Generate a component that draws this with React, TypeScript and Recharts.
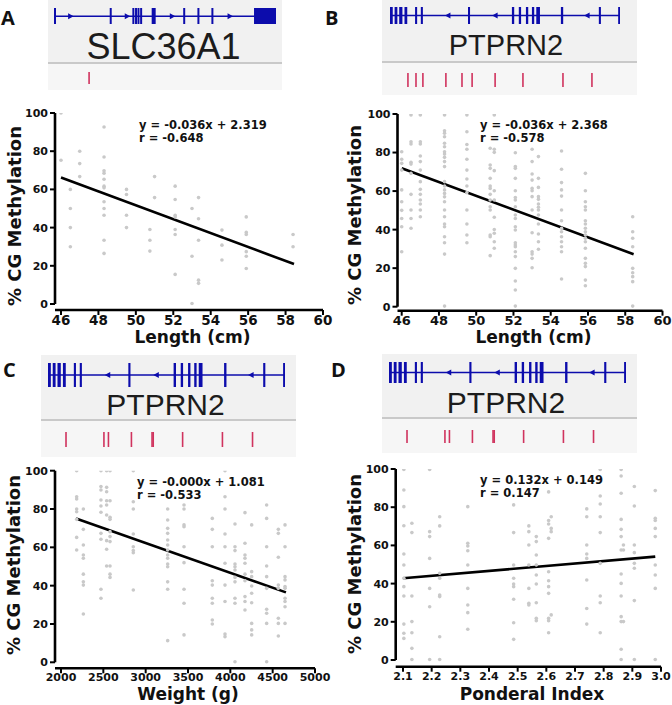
import React from 'react';
import { ComposedChart, Scatter, Line, XAxis, YAxis, ReferenceLine, ReferenceArea } from 'recharts';

// ---------- tick labels ----------
const lengthTicks = [46, 48, 50, 52, 54, 56, 58, 60];
const weightTicks = [2000, 2500, 3000, 3500, 4000, 4500, 5000];
const ponderalTicks = [2.1, 2.2, 2.3, 2.4, 2.5, 2.6, 2.7, 2.8, 2.9, 3.0];
const methylTicks = [0, 20, 40, 60, 80, 100];

// ---------- gene models (positions in % of gene length) ----------
const slc36a1Exons: [number, number][] = [
  [0, 0.9], [25.1, 26], [35.3, 36.2], [36.5, 37.4], [37.6, 38.5], [38.8, 39.7],
  [44, 45.8], [58.2, 59.1], [64.6, 65.5], [70.9, 71.8], [90.1, 100],
];
const slc36a1Arrows = [7.5, 33, 53.3, 79.3];
const slc36a1CpG = [15.8];

const ptprn2Exons: [number, number][] = [
  [0, 1.2], [2, 3.2], [4, 5.4], [6.3, 7.5], [10.9, 11.8], [13.4, 14.3], [33.9, 34.8],
  [53, 54], [56, 57], [59.1, 60.1], [61.7, 62.7], [63.6, 65.2], [74.3, 75.3], [90.8, 91.7], [99.2, 100],
];
const ptprn2Arrows = [25.2, 45.7, 85.7];
const ptprn2CpGLength = [7.8, 11.3, 14.3, 24.3, 31.3, 35.7, 45.7, 57.8, 75.2, 87.8];
const ptprn2CpGWeight = [7.6, 23.6, 25.5, 35.2, 43.9, 44.4, 56.8, 73.6, 86.3];

// ---------- scatter values: [x, methylation % list] ----------
type Column = [number, number[]];

const slcLength: Column[] = [
  [46, [100, 75.3]],
  [46.5, [60, 50, 40, 30]],
  [47, [80, 73.5, 66.7]],
  [48.3, [92.7, 77, 69.7, 68.5, 65.3, 61.7, 60.8, 53.5, 50, 46.5, 33.4, 26.5]],
  [49.5, [60, 57.3, 46.5, 40]],
  [50.75, [39, 33.4, 27.7]],
  [51, [66.7, 55.7]],
  [52.1, [61.7, 54.7, 46.5, 45.6, 39, 36.4, 15.5]],
  [53, [50, 25, 0.3]],
  [53.35, [55.7, 44.6, 33.4, 12.5, 10.8]],
  [54.6, [38.7, 30.8, 23]],
  [55.9, [45.6, 37.5, 36.4, 27.4, 25, 18.6]],
  [58.4, [36.4, 30]],
];

const ptprn2Length: Column[] = [
  [46, [80.4, 76.5, 74.4, 70.9, 60.6, 54.5, 50, 45.8, 41.5, 28.5]],
  [46.5, [99.5, 85.6, 84.4, 74.9, 74, 69.2, 58.3, 50.2, 45.8, 40.7]],
  [47, [99.5, 85.6, 84.4, 78.2, 75.3, 70.9, 64.9, 60.9, 58.3, 55.4, 53.3, 50.2, 46.7]],
  [48.3, [99.5, 91.3, 90, 88.2, 84.8, 83, 80.4, 79.2, 77.5, 75.3, 72.7, 64.9, 62.6, 60.6, 58.8, 57, 54.5, 50.2, 46.7, 42.9, 41.5, 36.3, 33.2, 27.3, 0.3]],
  [49.5, [99.5, 90.8, 84.2, 81.7, 76.5, 70.9, 66.3, 62.6, 59.2, 50.2, 42.9, 37.2, 33.2]],
  [50.75, [82.2, 73.5, 71.8, 66.6, 62.6, 61.4, 58.3, 55.4, 51.9, 50.2, 37.2, 36.3, 26.5]],
  [50.97, [99.5, 81.7, 80.1, 70.6, 60.2, 55.4, 46.4, 40.1, 38.1, 33.7, 30.3]],
  [52.1, [79.9, 72.7, 71.8, 66.6, 60.2, 56.7, 55.4, 51.9, 47.6, 45.8, 41.5, 39.8, 33.2, 32, 31.1, 28.5, 26, 19.9, 13.3, 8.7, 0.3]],
  [53, [81.7, 75.3, 68.9, 65.7, 61.4, 60.2, 57.1, 50.2, 38.4, 28.5, 27.3, 25.1, 20.2]],
  [53.34, [77.9, 66.6, 61.9, 57.1, 55.7, 53.3, 51.6, 50.2, 47.6, 42.9, 37.7, 33.7, 29.8]],
  [54.58, [80.8, 71.3, 64.4, 60.6, 57.4, 50.2, 44.6, 40.7, 38.9, 36.3, 33.7, 31.1, 28.5, 14.4]],
  [55.86, [69.2, 60.2, 54.5, 51.9, 50.2, 44.6, 42.9, 40.7, 38.9, 37.2, 35.5, 33.7, 30.3, 25.1, 22.5, 20.8, 13.8, 10.9]],
  [58.4, [46.7, 38.9, 35.5, 31.1, 19.9, 17.6, 15.6, 13, 0.3]],
];

const ptprn2Weight: Column[] = [
  [2185, [100, 86.4, 85.2, 80, 78.6, 74.6, 65.2, 58.6]],
  [2264, [80, 69.4, 61.2, 56, 54.3, 46, 42, 40.3, 25.2]],
  [2472, [100, 91.7, 89.9, 84.7, 81.6, 78.3, 67.3, 64.2, 38.1, 33.4]],
  [2539, [100, 91.3, 89, 84.3, 82.1, 76.9, 63.5, 59, 50.3]],
  [2579, [100, 84.3, 75.7, 74.6, 68.2, 65.6, 63, 50.3, 46, 44.3]],
  [2854, [100, 83.8, 80, 67, 60.3, 58.3, 57.2, 37.7]],
  [3260, [80, 74.3, 69.9, 67.3, 63.8, 61.2, 58.6, 56, 54.3, 51.3, 49.9, 42, 38.1, 11.3]],
  [3453, [82.1, 80, 71.7, 70.8, 60.3, 52, 38.1, 30.8, 14.3]],
  [3787, [75.1, 69.4, 60.3, 42.6, 40.3, 33.4, 30.8, 22.1, 20]],
  [3937, [100, 86.4, 80, 67, 60.3, 51.7, 40.3, 31.7, 14.8, 13.4]],
  [4055, [72.2, 60.3, 58.3, 51.3, 49.9, 48.2, 44.3, 42, 33.4, 30.8, 0.3]],
  [4173, [78.1, 62.1, 56, 54.3, 51.7, 46, 42.6, 34.3, 31.7, 27.3]],
  [4252, [71.7, 47.3, 44.7, 39.8, 36, 31.1, 20.3, 16.9, 14.3]],
  [4429, [82.1, 75.1, 60.3, 50.3, 44.7, 38.6, 27.7, 25.6, 20.3, 0.3]],
  [4567, [69.4, 67.3, 54.8, 40.3, 38.6, 23, 20.3, 13.7]],
  [4646, [71.7, 60.3, 44.7, 43, 39.5, 38.6, 33.4, 31.7, 29, 20.3]],
];

const ptprn2Ponderal: Column[] = [
  [2.103, [99.8, 89, 80.3, 70.3, 55.5, 49.7, 42.8, 38.4, 33.5, 18.8, 14, 11.3]],
  [2.131, [71.6, 66.7, 33.5, 20.1, 14.3, 6.1, 0.3]],
  [2.193, [99.8, 67.2, 64.6, 53.2, 37.5, 27.9, 0.3]],
  [2.228, [75, 70.2, 45.4, 42.8, 34, 33.2, 12.2, 0.3]],
  [2.326, [80.3, 61.1, 59.7, 57.2, 49.7, 37.5, 28.8, 24.8, 16.1]],
  [2.486, [81.2, 66.7, 49.7, 42.8, 39.8, 38.4, 31.8, 19.5, 10.8]],
  [2.539, [70.2, 67.2, 60.2, 49.7, 37.5, 29.7, 28.8]],
  [2.565, [64.6, 62, 55, 49.7, 44.5, 39.8, 30, 21.8, 20.6]],
  [2.608, [88, 73, 71.2, 63.7, 46.2, 41.5, 38.4, 34.9, 21.8, 20.6, 14.3]],
  [2.617, [75, 68.9, 67.2, 23.6]],
  [2.741, [79.1, 75, 60.2, 55.5, 53.2, 41.9, 27, 18.8]],
  [2.788, [99.8, 85.9, 81.7, 75, 66.7, 50.6, 33.5, 30, 14.3]],
  [2.861, [99.8, 96.3, 87.3, 73.6, 68.4, 64.6, 57.6, 45, 40.1, 33.5, 22.7, 20.1, 5.6, 0.3]],
  [2.869, [60.2, 57.6, 20.1]],
  [2.907, [90.8, 80.6, 60.2, 56.2, 50.6, 48, 31.1, 0.3]],
  [2.98, [88.7, 74.2, 73, 68.9, 64.6, 49.7, 44.5, 37.5, 0.3]],
];

// regression line end points
const fitA = [{ x: 46, y: 66.2 }, { x: 58.45, y: 20.9 }];
const fitB = [{ x: 46, y: 71.8 }, { x: 58.45, y: 27.2 }];
const fitC = [{ x: 2177, y: 75.1 }, { x: 4657, y: 36.5 }];
const fitD = [{ x: 2.1, y: 42.8 }, { x: 2.98, y: 54.1 }];

const BLUE = '#0c0cac';
const RED = '#d0335e';
const DOT = '#c9c9c9';
const BOLD = "'DejaVu Sans', sans-serif";
const AXIS_W = 40;
const AXIS_H = 30;

type Rect = { left: number; top: number; width: number; height: number };
type Plot = { left: number; right: number; top: number; bottom: number };

interface ScatterPanelProps {
  box: Rect;
  plot: Plot;
  xFirstPx: number;
  yZeroPx: number;
  xTicks: number[];
  fmt?: (v: number) => string;
  columns: Column[];
  fit: { x: number; y: number }[];
  tickFont: number;
}

const ScatterPanel: React.FC<ScatterPanelProps> = ({ box, plot, xFirstPx, yZeroPx, xTicks, fmt, columns, fit, tickFont }) => {
  const x0 = xTicks[0];
  const x1 = xTicks[xTicks.length - 1];
  const kx = (plot.right - xFirstPx) / (x1 - x0);
  const xLo = x0 - (xFirstPx - plot.left) / kx;
  const ky = (yZeroPx - plot.top) / 100;
  const yLo = -(plot.bottom - yZeroPx) / ky;
  const points = columns.flatMap(([x, ys]) => ys.map((y) => ({ x, y })));

  return (
    <div style={{ position: 'absolute', left: box.left, top: box.top }}>
      <ComposedChart
        width={box.width}
        height={box.height}
        margin={{
          top: plot.top - box.top,
          left: plot.left - box.left - AXIS_W,
          right: box.left + box.width - plot.right,
          bottom: box.top + box.height - plot.bottom - AXIS_H,
        }}
      >
        <XAxis
          type="number"
          dataKey="x"
          domain={[xLo, x1]}
          ticks={xTicks}
          interval={0}
          tickFormatter={fmt}
          allowDataOverflow
          axisLine={false}
          tickLine={{ stroke: '#000', strokeWidth: 2 }}
          tickSize={5}
          tickMargin={0}
          height={AXIS_H}
          tick={{ fontSize: tickFont, fontWeight: 700, fill: '#111', fontFamily: BOLD }}
        />
        <YAxis
          type="number"
          domain={[yLo, 100]}
          ticks={methylTicks}
          interval={0}
          allowDataOverflow
          axisLine={false}
          tickLine={{ stroke: '#000', strokeWidth: 2 }}
          tickSize={5}
          tickMargin={2}
          width={AXIS_W}
          tick={{ fontSize: 11, fontWeight: 700, fill: '#111', fontFamily: BOLD }}
        />
        {/* offset axes, Prism style */}
        <ReferenceLine segment={[{ x: xLo, y: 0 }, { x: xLo, y: 100 }]} stroke="#000" strokeWidth={2.6} />
        <ReferenceLine segment={[{ x: xLo, y: yLo }, { x: x1, y: yLo }]} stroke="#000" strokeWidth={2.6} />
        <Scatter
          data={points}
          dataKey="y"
          isAnimationActive={false}
          shape={(p: any) => <circle cx={p.cx} cy={p.cy} r={1.8} fill={DOT} />}
        />
        <Line data={fit} dataKey="y" stroke="#000" strokeWidth={2.6} dot={false} isAnimationActive={false} />
      </ComposedChart>
    </div>
  );
};

interface GeneTrackProps {
  box: Rect;
  sepY: number;
  row: { top: number; height: number };
  geneLeft: number;
  geneRight: number;
  cpgRow: { top: number; height: number };
  exons: [number, number][];
  arrows: number[];
  dir: number;
  cpgs: number[];
}

const GeneTrack: React.FC<GeneTrackProps> = ({ box, sepY, row, geneLeft, geneRight, cpgRow, exons, arrows, dir, cpgs }) => {
  const margin = { top: 0, bottom: 0, left: geneLeft - box.left, right: box.left + box.width - geneRight };
  const arrowShape = (p: any) => (
    <polygon
      points={`${p.cx + 3 * dir},${p.cy} ${p.cx - 2.5 * dir},${p.cy - 3} ${p.cx - 2.5 * dir},${p.cy + 3}`}
      fill={BLUE}
    />
  );
  const cpgShape = (p: any) => (
    <rect x={p.cx - 0.8} y={p.cy - cpgRow.height / 2} width={1.6} height={cpgRow.height} fill={RED} />
  );
  return (
    <>
      <div style={{ position: 'absolute', left: box.left, top: box.top, width: box.width, height: sepY - box.top, background: '#f1f1f1' }} />
      <div style={{ position: 'absolute', left: box.left, top: sepY, width: box.width, height: box.top + box.height - sepY, background: '#f6f6f6' }} />
      <div style={{ position: 'absolute', left: box.left, top: sepY - 1, width: box.width, height: 2, background: '#c9c9c9' }} />
      <div style={{ position: 'absolute', left: box.left, top: row.top }}>
        <ComposedChart width={box.width} height={row.height} margin={margin}>
          <XAxis type="number" dataKey="x" domain={[0, 100]} hide allowDataOverflow />
          <YAxis type="number" domain={[-1, 1]} hide allowDataOverflow />
          <ReferenceLine segment={[{ x: 0, y: 0 }, { x: 100, y: 0 }]} stroke={BLUE} strokeWidth={1.5} />
          {exons.map(([s, e], i) => (
            <ReferenceArea key={i} x1={s} x2={e} y1={-1} y2={1} fill={BLUE} fillOpacity={1} stroke="none" />
          ))}
          <Scatter data={arrows.map((x) => ({ x, y: 0 }))} dataKey="y" shape={arrowShape} isAnimationActive={false} />
        </ComposedChart>
      </div>
      <div style={{ position: 'absolute', left: box.left, top: cpgRow.top }}>
        <ComposedChart width={box.width} height={cpgRow.height} margin={margin}>
          <XAxis type="number" dataKey="x" domain={[0, 100]} hide allowDataOverflow />
          <YAxis type="number" domain={[-1, 1]} hide allowDataOverflow />
          <Scatter data={cpgs.map((x) => ({ x, y: 0 }))} dataKey="y" shape={cpgShape} isAnimationActive={false} />
        </ComposedChart>
      </div>
    </>
  );
};

const YTitle = ({ x, y }: { x: number; y: number }) => (
  <text transform={`translate(${x},${y}) rotate(-90)`} textAnchor="middle" fontSize={18} fontWeight={700} fontFamily={BOLD} fill="#111">
    % CG Methylation
  </text>
);

const Eq = ({ x, y, lines }: { x: number; y: number; lines: string[] }) => (
  <text x={x} y={y} fontSize={11.5} fontWeight={700} fontFamily={BOLD} fill="#111">
    {lines.map((l, i) => (
      <tspan key={i} x={x} dy={i === 0 ? 0 : 12.5}>{l}</tspan>
    ))}
  </text>
);

export default function App() {
  const letter = { fontSize: 20, fontWeight: 700, fontFamily: "'Open Sans', sans-serif", fill: '#111' };
  const gene = { fontFamily: "'Liberation Sans', Arial, sans-serif", fill: '#1c1c1c', textAnchor: 'middle' as const };
  const title = { fontSize: 17, fontWeight: 700, fontFamily: BOLD, fill: '#111', textAnchor: 'middle' as const };
  return (
    <div style={{ position: 'relative', width: 672, height: 705, background: '#fff', overflow: 'hidden' }}>
      <style>{'body{margin:0}'}</style>

      <GeneTrack
        box={{ left: 48, top: 0, width: 234, height: 90 }}
        sepY={63}
        row={{ top: 7.5, height: 16.5 }}
        geneLeft={54}
        geneRight={276}
        cpgRow={{ top: 72, height: 12 }}
        exons={slc36a1Exons}
        arrows={slc36a1Arrows}
        dir={1}
        cpgs={slc36a1CpG}
      />
      <GeneTrack
        box={{ left: 382, top: 0, width: 255, height: 95 }}
        sepY={62}
        row={{ top: 7, height: 17 }}
        geneLeft={390}
        geneRight={620}
        cpgRow={{ top: 73, height: 14 }}
        exons={ptprn2Exons}
        arrows={ptprn2Arrows}
        dir={-1}
        cpgs={ptprn2CpGLength}
      />
      <GeneTrack
        box={{ left: 41, top: 355, width: 255, height: 102 }}
        sepY={420}
        row={{ top: 363, height: 24 }}
        geneLeft={48}
        geneRight={285}
        cpgRow={{ top: 432, height: 15 }}
        exons={ptprn2Exons}
        arrows={ptprn2Arrows}
        dir={-1}
        cpgs={ptprn2CpGWeight}
      />
      <GeneTrack
        box={{ left: 382, top: 354, width: 255, height: 99 }}
        sepY={418}
        row={{ top: 362, height: 21 }}
        geneLeft={389}
        geneRight={626}
        cpgRow={{ top: 430, height: 13 }}
        exons={ptprn2Exons}
        arrows={ptprn2Arrows}
        dir={-1}
        cpgs={ptprn2CpGWeight}
      />

      <ScatterPanel
        box={{ left: 0, top: 100, width: 336, height: 255 }}
        plot={{ left: 55, right: 323, top: 113, bottom: 310 }}
        xFirstPx={61}
        yZeroPx={304}
        xTicks={lengthTicks}
        columns={slcLength}
        fit={fitA}
        tickFont={13.5}
      />
      <ScatterPanel
        box={{ left: 336, top: 100, width: 336, height: 255 }}
        plot={{ left: 397.5, right: 662.5, top: 114, bottom: 310.7 }}
        xFirstPx={401.7}
        yZeroPx={306.7}
        xTicks={lengthTicks}
        columns={ptprn2Length}
        fit={fitB}
        tickFont={13}
      />
      <ScatterPanel
        box={{ left: 0, top: 460, width: 336, height: 245 }}
        plot={{ left: 55, right: 315, top: 470.7, bottom: 668.3 }}
        xFirstPx={61}
        yZeroPx={662.3}
        xTicks={weightTicks}
        columns={ptprn2Weight}
        fit={fitC}
        tickFont={11}
      />
      <ScatterPanel
        box={{ left: 336, top: 460, width: 336, height: 245 }}
        plot={{ left: 395.7, right: 661, top: 469, bottom: 666.7 }}
        xFirstPx={403}
        yZeroPx={660}
        xTicks={ponderalTicks}
        fmt={(v) => v.toFixed(1)}
        columns={ptprn2Ponderal}
        fit={fitD}
        tickFont={11}
      />

      <svg width={672} height={705} style={{ position: 'absolute', left: 0, top: 0, pointerEvents: 'none' }}>
        <text x={1} y={25} {...letter}>A</text>
        <text x={325} y={25} {...letter}>B</text>
        <text x={3} y={377} {...letter}>C</text>
        <text x={331} y={377} {...letter}>D</text>

        <text x={163.5} y={59} fontSize={36} {...gene}>SLC36A1</text>
        <text x={506} y={55} fontSize={29} {...gene}>PTPRN2</text>
        <text x={165.5} y={415} fontSize={30} {...gene}>PTPRN2</text>
        <text x={506} y={413} fontSize={30} {...gene}>PTPRN2</text>

        <Eq x={139} y={129} lines={['y = -0.036x + 2.319', 'r = -0.648']} />
        <Eq x={480} y={129} lines={['y = -0.036x + 2.368', 'r = -0.578']} />
        <Eq x={137} y={486} lines={['y = -0.000x + 1.081', 'r = -0.533']} />
        <Eq x={480} y={484} lines={['y = 0.132x + 0.149', 'r = 0.147']} />

        <YTitle x={21} y={216} />
        <YTitle x={361} y={215} />
        <YTitle x={20} y={565} />
        <YTitle x={361} y={564} />

        <text x={192.5} y={343} {...title}>Length (cm)</text>
        <text x={533.5} y={343} {...title}>Length (cm)</text>
        <text x={188} y={700} {...title}>Weight (g)</text>
        <text x={532} y={700} {...title}>Ponderal Index</text>
      </svg>
    </div>
  );
}
